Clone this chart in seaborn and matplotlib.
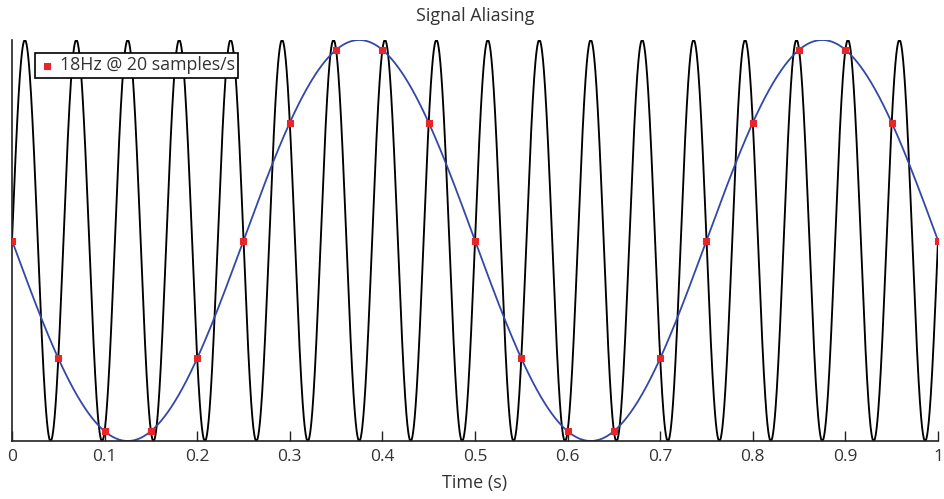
import numpy as np
import matplotlib
matplotlib.use("Agg")
import matplotlib.pyplot as plt
import seaborn as sns
import pandas as pd

# Signal parameters
signal_freq_hz = 18
alias_freq_hz = -2
sample_rate = 20
duration_s = 1.0

# Sample points (20 samples/s)
sample_times = [0.00, 0.05, 0.10, 0.15, 0.20, 0.25, 0.30, 0.35, 0.40, 0.45, 0.50,
                0.55, 0.60, 0.65, 0.70, 0.75, 0.80, 0.85, 0.90, 0.95, 1.00]
sample_values = [0.0, -0.588, -0.951, -0.951, -0.588, 0.0, 0.588, 0.951, 0.951, 0.588, 0.0,
                 -0.588, -0.951, -0.951, -0.588, 0.0, 0.588, 0.951, 0.951, 0.588, 0.0]

x_ticks = [0, 0.1, 0.2, 0.3, 0.4, 0.5, 0.6, 0.7, 0.8, 0.9, 1]
x_tick_labels = ["0", "0.1", "0.2", "0.3", "0.4", "0.5", "0.6", "0.7", "0.8", "0.9", "1"]

sns.set_theme(style="ticks")
plt.rcParams['font.family'] = ['Open Sans', 'DejaVu Sans']

t = np.linspace(0, duration_s, 4000)
df_sig = pd.DataFrame({"t": t, "y": np.sin(2 * np.pi * signal_freq_hz * t)})
df_alias = pd.DataFrame({"t": t, "y": np.sin(2 * np.pi * alias_freq_hz * t)})
df_samp = pd.DataFrame({"t": sample_times, "y": sample_values})

fig = plt.figure(figsize=(9.45, 4.99), dpi=100)
ax = fig.add_axes([12 / 945, 58 / 499, (938 - 12) / 945, (441 - 40) / 499])

sns.lineplot(data=df_sig, x="t", y="y", ax=ax, color="black", linewidth=1.35,
             estimator=None, sort=False, legend=False)
sns.lineplot(data=df_alias, x="t", y="y", ax=ax, color="#3248a8", linewidth=1.3,
             estimator=None, sort=False, legend=False)
sns.scatterplot(data=df_samp, x="t", y="y", ax=ax, color="#e8262a", marker="s",
                s=20, edgecolor="#e8262a", linewidth=0.8, zorder=5,
                label="18Hz @ 20 samples/s")

ax.set_xlim(0, 1)
ax.set_ylim(-1, 1)
ax.set_xticks(x_ticks)
ax.set_xticklabels(x_tick_labels)
ax.set_yticks([])
ax.tick_params(axis="x", direction="in", length=7, width=1, color="#222222",
               labelsize=12.5, labelcolor="#333333", pad=6)
ax.spines["top"].set_visible(False)
ax.spines["right"].set_visible(False)
for s in ["left", "bottom"]:
    ax.spines[s].set_color("#222222")
    ax.spines[s].set_linewidth(1.2)
ax.set_ylabel("")
ax.set_xlabel("Time (s)", fontsize=13, color="#333333", labelpad=6)
ax.set_title("Signal Aliasing", fontsize=13, color="#333333", pad=14)

leg = ax.legend(loc="upper left", bbox_to_anchor=(23 / 926, 0.968), borderaxespad=0,
                frameon=True, fancybox=False, edgecolor="black", fontsize=12.8,
                handletextpad=0.2, borderpad=0.2, handlelength=1.0,
                labelcolor="#333333", markerscale=1.1)
leg.get_frame().set_linewidth(1.2)
leg.get_frame().set_alpha(1)

fig.savefig("out.png", dpi=100)
